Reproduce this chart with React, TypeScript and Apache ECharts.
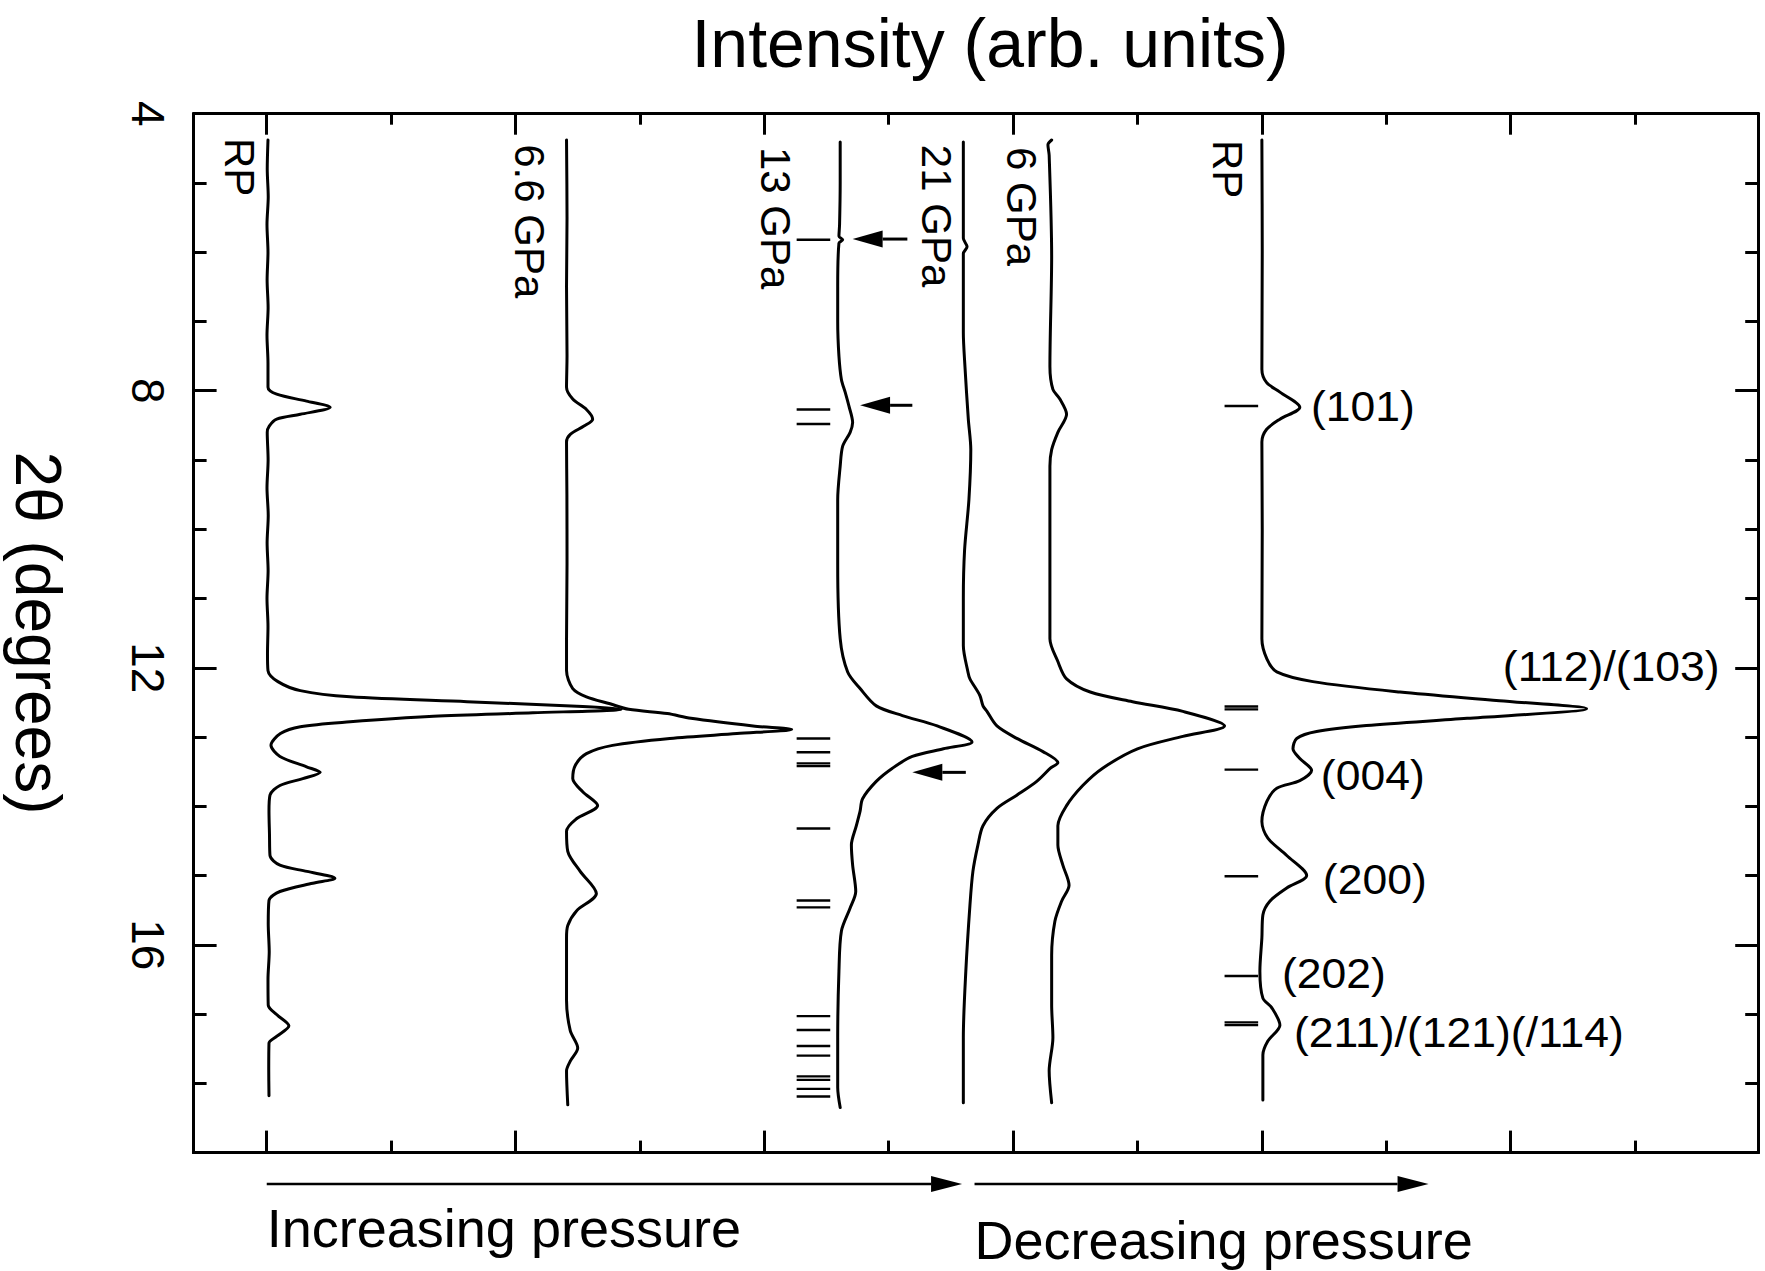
import React, { useEffect, useRef } from "react";
import * as echarts from "echarts";

const WIDTH = 1765;
const HEIGHT = 1271;
const FONT = "'Liberation Sans', Arial, Helvetica, sans-serif";

// ---- axes ----
const thetaMin = 4;
const thetaMax = 19;
const intMin = -0.588;
const intMax = 11.99;
const thetaMajor = [4, 8, 12, 16];
const thetaMinor = [5, 6, 7, 9, 10, 11, 13, 14, 15, 17, 18];
const intMajor = [0, 2, 4, 6, 8, 10];
const intMinor = [1, 3, 5, 7, 9, 11];

// ---- patterns: [2theta, relative intensity] ----
const patternNames = ["RP", "6.6 GPa", "13 GPa", "21 GPa", "6 GPa", "RP"];
const patternOffsets = [0, 2.41, 4.61, 5.6, 6.29, 8.0];

const rpUp = [
  [4.38, 0.01], [4.8, 0.004], [5.2, 0.012], [5.6, 0.002], [6.0, 0.01], [6.4, 0.003], [6.8, 0.011], [7.2, 0.002], [7.6, 0.01], [7.95, 0.01],
  [8.05, 0.08], [8.15, 0.32], [8.24, 0.51], [8.34, 0.27], [8.41, 0.08], [8.51, 0.02], [8.6, 0.004],
  [9.0, 0.011], [9.4, 0.002], [9.8, 0.012], [10.2, 0.003], [10.6, 0.011], [11.0, 0.002], [11.4, 0.01], [11.8, 0.006], [12.04, 0.01],
  [12.2, 0.09], [12.33, 0.27], [12.42, 0.67], [12.49, 1.61], [12.56, 2.54], [12.6, 2.85], [12.65, 2.14], [12.7, 1.34], [12.78, 0.67], [12.85, 0.27], [12.95, 0.11], [13.12, 0.034],
  [13.28, 0.106], [13.43, 0.32], [13.51, 0.43], [13.6, 0.29], [13.7, 0.106], [13.84, 0.026], [14.07, 0.018], [14.4, 0.022], [14.71, 0.026],
  [14.85, 0.106], [14.94, 0.323], [15.04, 0.548], [15.11, 0.37], [15.23, 0.106], [15.36, 0.018],
  [15.7, 0.012], [16.1, 0.02], [16.5, 0.01], [16.87, 0.012],
  [17.01, 0.082], [17.17, 0.178], [17.32, 0.082], [17.42, 0.018], [17.8, 0.016], [18.18, 0.018],
];

const p66 = [
  [4.38, 0], [5.5, 0.004], [6.5, 0], [7.5, 0.004], [7.95, 0], [8.12, 0.05], [8.27, 0.16], [8.41, 0.21], [8.51, 0.14], [8.63, 0.03], [8.74, 0],
  [9.5, 0.003], [10.5, 0.004], [11.58, 0], [12.04, 0], [12.3, 0.05], [12.42, 0.16], [12.52, 0.35], [12.6, 0.5], [12.66, 0.81], [12.73, 1.0],
  [12.84, 1.5], [12.89, 1.81], [12.95, 1.37], [13.02, 0.83], [13.12, 0.37], [13.24, 0.16], [13.41, 0.07], [13.6, 0.05], [13.79, 0.13],
  [13.99, 0.25], [14.18, 0.08], [14.36, 0.0], [14.65, 0.01], [14.94, 0.11], [15.26, 0.24], [15.51, 0.08], [15.72, 0.01], [15.9, 0],
  [16.8, 0], [17.24, 0.03], [17.49, 0.09], [17.68, 0.03], [17.82, 0], [18.31, 0.01],
];

const p13 = [
  [4.41, 0], [5.0, 0], [5.6, -0.005], [5.77, -0.01], [5.82, 0.02], [5.87, -0.01], [6.5, -0.02], [7.0, -0.02], [7.5, -0.01], [7.84, 0.01],
  [8.02, 0.04], [8.22, 0.07], [8.46, 0.1], [8.6, 0.08], [8.8, 0.02], [9.09, 0], [9.57, -0.02], [10.5, -0.02], [11.58, 0], [12.06, 0.06],
  [12.3, 0.16], [12.55, 0.29], [12.69, 0.5], [12.84, 0.78], [13.07, 1.06], [13.17, 0.83], [13.28, 0.58], [13.45, 0.42], [13.64, 0.29],
  [13.89, 0.18], [14.07, 0.16], [14.28, 0.13], [14.56, 0.09], [14.85, 0.1], [15.23, 0.125], [15.47, 0.08], [15.8, 0.01], [16.38, -0.01],
  [17.34, -0.02], [18.06, -0.02], [18.35, 0],
];

const p21 = [
  [4.41, 0], [5.8, 0], [5.92, 0.03], [6.02, 0], [7.16, 0], [7.65, 0.013], [8.41, 0.04], [8.85, 0.06], [9.57, 0.045], [10.3, 0.01], [11.0, 0],
  [11.68, 0], [12.06, 0.037], [12.16, 0.053], [12.4, 0.133], [12.55, 0.158], [12.63, 0.19], [12.84, 0.27], [13.02, 0.43], [13.21, 0.64], [13.37, 0.76],
  [13.45, 0.7], [13.64, 0.59], [13.84, 0.43], [14.03, 0.27], [14.28, 0.158], [14.56, 0.117], [14.94, 0.077], [15.43, 0.053], [16.38, 0.02],
  [17.34, 0], [18.28, 0],
];

const p6 = [
  [4.38, 0.02], [4.45, -0.01], [4.6, 0], [6.06, 0.02], [7.65, 0.006], [7.98, 0.03], [8.12, 0.086], [8.34, 0.14], [8.6, 0.07], [8.85, 0.02],
  [9.09, 0.006], [11.58, 0.006], [11.91, 0.07], [12.16, 0.14], [12.35, 0.33], [12.49, 0.67], [12.63, 1.075], [12.84, 1.41], [12.99, 1.075],
  [13.17, 0.71], [13.45, 0.43], [13.7, 0.27], [13.99, 0.14], [14.28, 0.07], [14.56, 0.07], [14.85, 0.11], [15.14, 0.16], [15.37, 0.1],
  [15.66, 0.046], [16.15, 0.02], [16.87, 0.02], [17.34, 0.03], [17.82, 0], [18.28, 0.02],
];

const rpDown = [
  [4.38, 0], [6.0, 0.003], [7.69, 0], [7.88, 0.037], [8.02, 0.145], [8.24, 0.305], [8.41, 0.145], [8.56, 0.037], [8.74, 0], [10.0, 0.003],
  [11.58, 0], [11.87, 0.04], [12.06, 0.12], [12.2, 0.41], [12.35, 1.11], [12.475, 1.91], [12.59, 2.61], [12.73, 1.65], [12.835, 0.84],
  [12.92, 0.44], [13.02, 0.28], [13.17, 0.25], [13.31, 0.305], [13.48, 0.4], [13.63, 0.305], [13.74, 0.12], [13.93, 0.04], [14.22, 0],
  [14.46, 0.048], [14.71, 0.2], [15.0, 0.36], [15.18, 0.2], [15.37, 0.064], [15.57, 0.008], [15.9, 0], [16.38, -0.016], [16.77, 0.008],
  [16.91, 0.08], [17.16, 0.145], [17.39, 0.048], [17.59, 0.008], [18.24, 0.008],
];

const patterns = [rpUp, p66, p13, p21, p6, rpDown];

// label anchors [intensity, 2theta]
const patternLabelAt = [[-0.223, 4.35], [2.115, 4.44], [4.093, 4.48], [5.388, 4.45], [6.071, 4.48], [7.727, 4.38]];

// reflection markers
const refl13Theta = [5.82, 8.27, 8.48, 13.02, 13.22, 13.38, 13.42, 14.32, 15.36, 15.46, 17.03, 17.23, 17.46, 17.6, 17.9, 17.95, 18.08, 18.19];
const refl13Span = [4.26, 4.53];
const reflRPTheta = [8.22, 12.56, 12.6, 13.47, 15.01, 16.45, 17.12, 17.16];
const reflRPSpan = [7.7, 7.97];

// arrows inside the plot: [tail, 2theta, tip]
const newPeakArrows = [[5.15, 5.81, 4.71], [5.19, 8.21, 4.77], [5.62, 13.51, 5.19]];

// hkl labels
const hklText = ["(101)", "(112)/(103)", "(004)", "(200)", "(202)", "(211)/(121)(/114)"];
const hklAt = [[8.394, 8.23], [9.937, 11.985], [8.474, 13.56], [8.49, 15.05], [8.162, 16.42], [8.258, 17.26]];

// pressure direction arrows: [from, to] in intensity units
const pressureArrows = [[0, 5.59], [5.69, 9.34]];
const pressureText = ["Increasing pressure", "Decreasing pressure"];
const pressureTextAt = [0.0, 5.69];

function xAxisDef(position: string, ticks: number[], len: number) {
  return {
    type: "value",
    position,
    min: intMin,
    max: intMax,
    axisLine: { show: true, onZero: false, lineStyle: { color: "#000", width: 3 } },
    axisTick: { show: true, inside: true, length: len, customValues: ticks, lineStyle: { color: "#000", width: 3 } },
    axisLabel: { show: false },
    splitLine: { show: false },
  };
}
function yAxisDef(position: string, ticks: number[], len: number, labels: boolean) {
  return {
    type: "value",
    position,
    inverse: true,
    min: thetaMin,
    max: thetaMax,
    axisLine: { show: true, onZero: false, lineStyle: { color: "#000", width: 3 } },
    axisTick: { show: true, inside: true, length: len, customValues: ticks, lineStyle: { color: "#000", width: 3 } },
    axisLabel: labels
      ? {
          show: true,
          customValues: ticks,
          rotate: -90,
          align: "center",
          verticalAlign: "middle",
          margin: 46,
          fontSize: 46,
          fontFamily: FONT,
          color: "#000",
        }
      : { show: false },
    splitLine: { show: false },
  };
}

export default function App() {
  const ref = useRef<HTMLDivElement>(null);
  useEffect(() => {
    if (!ref.current) return;
    const chart = echarts.init(ref.current, null, { renderer: "svg", width: WIDTH, height: HEIGHT });

    const lineSeries = patterns.map((pts, i) => ({
      type: "line",
      name: patternNames[i] + "-" + i,
      xAxisIndex: 0,
      yAxisIndex: 0,
      data: pts.map(([t, v]) => [patternOffsets[i] + v, t]),
      showSymbol: false,
      symbol: "none",
      smooth: 0.3,
      lineStyle: { color: "#000", width: 3, cap: "round", join: "round" },
      silent: true,
      z: 4,
    }));

    const tickSeries = (thetas: number[], span: number[]) => ({
      type: "custom",
      xAxisIndex: 0,
      yAxisIndex: 0,
      data: thetas.map((t) => [span[0], t, span[1]]),
      encode: { x: [0, 2], y: 1 },
      silent: true,
      z: 3,
      renderItem: (_p: any, api: any) => {
        const a = api.coord([api.value(0), api.value(1)]);
        const b = api.coord([api.value(2), api.value(1)]);
        return {
          type: "line",
          shape: { x1: a[0], y1: a[1], x2: b[0], y2: b[1] },
          style: { stroke: "#000", lineWidth: 2.4 },
        };
      },
    });

    const arrowSeries = {
      type: "custom",
      xAxisIndex: 0,
      yAxisIndex: 0,
      data: newPeakArrows,
      encode: { x: [0, 2], y: 1 },
      silent: true,
      z: 5,
      renderItem: (_p: any, api: any) => {
        const tail = api.coord([api.value(0), api.value(1)]);
        const tip = api.coord([api.value(2), api.value(1)]);
        const dir = Math.sign(tip[0] - tail[0]);
        const L = 30;
        const hw = 8.5;
        const bx = tip[0] - dir * L;
        return {
          type: "group",
          children: [
            { type: "line", shape: { x1: tail[0], y1: tail[1], x2: bx, y2: tip[1] }, style: { stroke: "#000", lineWidth: 3 } },
            { type: "polygon", shape: { points: [[tip[0], tip[1]], [bx, tip[1] - hw], [bx, tip[1] + hw]] }, style: { fill: "#000" } },
          ],
        };
      },
    };

    chart.setOption({
      animation: false,
      backgroundColor: "#fff",
      grid: { left: 193.6, right: 6.8, top: 113.7, bottom: 118.4, containLabel: false, outerBoundsMode: "none" },
      xAxis: [
        xAxisDef("bottom", intMajor, 22),
        xAxisDef("top", intMajor, 21),
        xAxisDef("bottom", intMinor, 12),
        xAxisDef("top", intMinor, 11),
      ],
      yAxis: [
        yAxisDef("left", thetaMajor, 23, true),
        yAxisDef("right", thetaMajor, 23, false),
        yAxisDef("left", thetaMinor, 13, false),
        yAxisDef("right", thetaMinor, 13, false),
      ],
      series: [...lineSeries, tickSeries(refl13Theta, refl13Span), tickSeries(reflRPTheta, reflRPSpan), arrowSeries],
    });

    const px = (u: number, t: number) => chart.convertToPixel({ xAxisIndex: 0, yAxisIndex: 0 }, [u, t]) as number[];

    const elements: any[] = [];
    elements.push({
      type: "text",
      x: 990,
      y: 43,
      style: { text: "Intensity (arb. units)", fontSize: 68, fontFamily: FONT, fill: "#000", align: "center", verticalAlign: "middle" },
    });
    elements.push({
      type: "text",
      x: 38,
      y: 633,
      rotation: -Math.PI / 2,
      style: { text: "2\u03b8 (degrees)", fontSize: 64, lineHeight: 64, fontFamily: FONT, fill: "#000", align: "center", verticalAlign: "middle" },
    });
    patternNames.forEach((name, i) => {
      const p = px(patternLabelAt[i][0], patternLabelAt[i][1]);
      elements.push({
        type: "text",
        x: p[0],
        y: p[1],
        rotation: -Math.PI / 2,
        z: 10,
        style: { text: name, fontSize: 42, fontFamily: FONT, fill: "#000", align: "left", verticalAlign: "middle" },
      });
    });
    hklText.forEach((txt, i) => {
      const p = px(hklAt[i][0], hklAt[i][1]);
      elements.push({
        type: "text",
        x: p[0],
        y: p[1],
        scaleX: 1.06,
        z: 10,
        style: { text: txt, fontSize: 42, fontFamily: FONT, fill: "#000", align: "left", verticalAlign: "middle" },
      });
    });
    const arrowY = 1184;
    pressureArrows.forEach(([a, b]) => {
      const x1 = px(a, thetaMax)[0];
      const x2 = px(b, thetaMax)[0];
      const L = 31;
      const hw = 8;
      elements.push({ type: "line", shape: { x1, y1: arrowY, x2: x2 - L, y2: arrowY }, style: { stroke: "#000", lineWidth: 2.6 } });
      elements.push({
        type: "polygon",
        shape: { points: [[x2, arrowY], [x2 - L, arrowY - hw], [x2 - L, arrowY + hw]] },
        style: { fill: "#000" },
      });
    });
    const textYs = [1228, 1240];
    pressureText.forEach((txt, i) => {
      const x = px(pressureTextAt[i], thetaMax)[0];
      elements.push({
        type: "text",
        x,
        y: textYs[i],
        style: { text: txt, fontSize: 54, fontFamily: FONT, fill: "#000", align: "left", verticalAlign: "middle" },
      });
    });

    chart.setOption({ graphic: { elements } });

    return () => chart.dispose();
  }, []);
  return <div ref={ref} style={{ position: "fixed", left: 0, top: 0, width: WIDTH, height: HEIGHT, background: "#fff" }} />;
}
